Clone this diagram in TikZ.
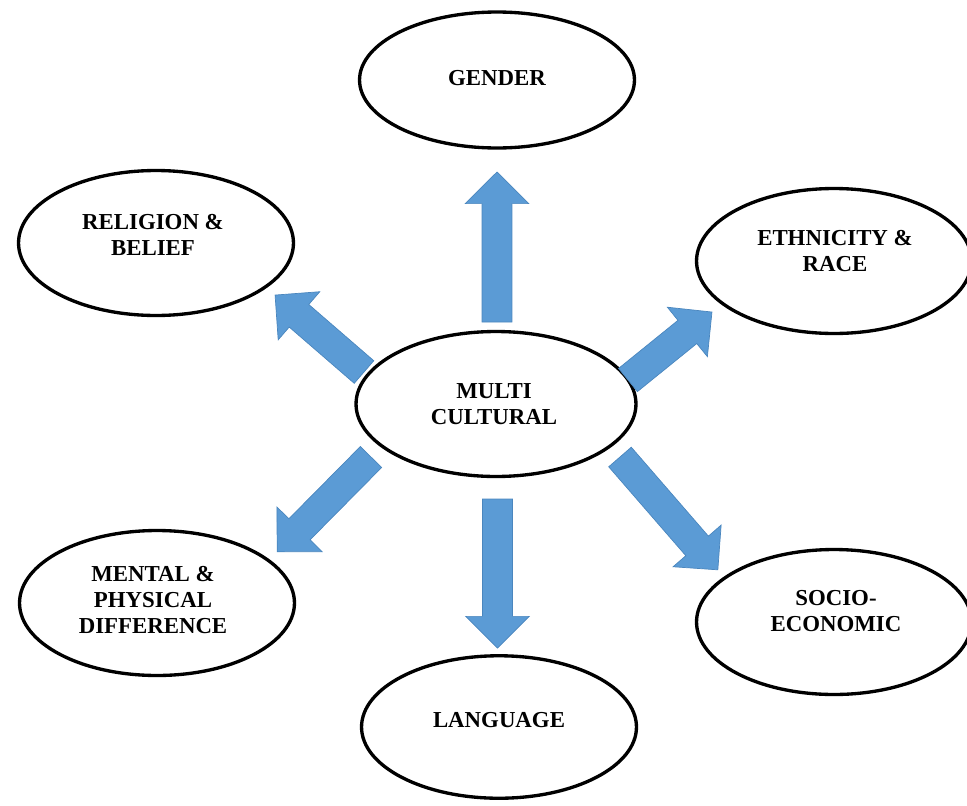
\documentclass[tikz,border=0pt]{standalone}
\usepackage{fontspec}
\setmainfont{Liberation Serif}
\usetikzlibrary{shapes.geometric}

\definecolor{arrowblue}{HTML}{5B9BD5}
\definecolor{arrowedge}{HTML}{4A86BE}

\tikzset{
  topic/.style={ellipse, draw=black, line width=1.9pt, minimum width=5.5cm, minimum height=2.9cm, inner sep=0pt},
  topictext/.style={align=center, inner sep=0pt, font=\fontsize{13}{14.6}\selectfont\bfseries},
  blockarrow/.style={fill=arrowblue, draw=arrowedge, line width=0.4pt, line join=miter}
}

% Block arrow from one named point to another
\def\shaftw{8.5pt}  % half width of shaft
\def\headw{18.1pt}  % half width of head
\def\headl{18pt}    % length of head
\newcommand{\fatarrow}[2]{%
  \path (#1); \pgfgetlastxy{\ax}{\ay}
  \path (#2); \pgfgetlastxy{\bx}{\by}
  \pgfmathsetmacro\arrang{atan2(\by-\ay,\bx-\ax)}
  \pgfmathsetmacro\arrlen{veclen(\bx-\ax,\by-\ay)}
  \draw[blockarrow, shift={(\ax,\ay)}, rotate=\arrang]
    (0pt,-\shaftw) -- ({\arrlen pt-\headl},-\shaftw) -- ({\arrlen pt-\headl},-\headw)
    -- (\arrlen pt,0pt) -- ({\arrlen pt-\headl},\headw) -- ({\arrlen pt-\headl},\shaftw)
    -- (0pt,\shaftw) -- cycle;
}

\begin{document}
\begin{tikzpicture}[x=0.02cm, y=-0.02cm]
  \useasboundingbox (0,0) rectangle (967,805);

  % Draw the ellipses
  \node[topic, minimum height=2.72cm] (gender) at (497,80) {};
  \node[topic] (religion) at (156,243) {};
  \node[topic] (ethnicity) at (834,261) {};
  \node[topic, minimum width=5.6cm] (multi) at (496,404) {};
  \node[topic] (mental) at (157,603) {};
  \node[topic] (socio) at (834,622) {};
  \node[topic, minimum height=2.85cm] (language) at (499,727) {};

  % Texts
  \node[topictext] (gender-t) at (497,78) {GENDER};
  \node[topictext] (religion-t) at (153,235) {RELIGION \&\\BELIEF};
  \node[topictext] (ethnicity-t) at (835,251) {ETHNICITY \&\\RACE};
  \node[topictext] (multi-t) at (494,404) {MULTI\\CULTURAL};
  \node[topictext] (mental-t) at (153,600) {MENTAL \&\\PHYSICAL\\DIFFERENCE};
  \node[topictext] (socio-t) at (836,611) {SOCIO-\\ECONOMIC};
  \node[topictext] (language-t) at (499,720) {LANGUAGE};

  % Arrow ends
  \coordinate (up-s) at (497,322);    \coordinate (up-e) at (497,172);
  \coordinate (down-s) at (497.5,499);  \coordinate (down-e) at (497.5,648);
  \coordinate (ul-s) at (364,372);    \coordinate (ul-e) at (275,295);
  \coordinate (ll-s) at (371,457);    \coordinate (ll-e) at (277,552);
  \coordinate (lr-s) at (620,457);    \coordinate (lr-e) at (718,570);
  \coordinate (ur-s) at (628,380);    \coordinate (ur-e) at (712,312);

  % Draw the arrows
  \foreach \a in {up,down,ul,ll,lr,ur}
    \fatarrow{\a-s}{\a-e};
\end{tikzpicture}
\end{document}
